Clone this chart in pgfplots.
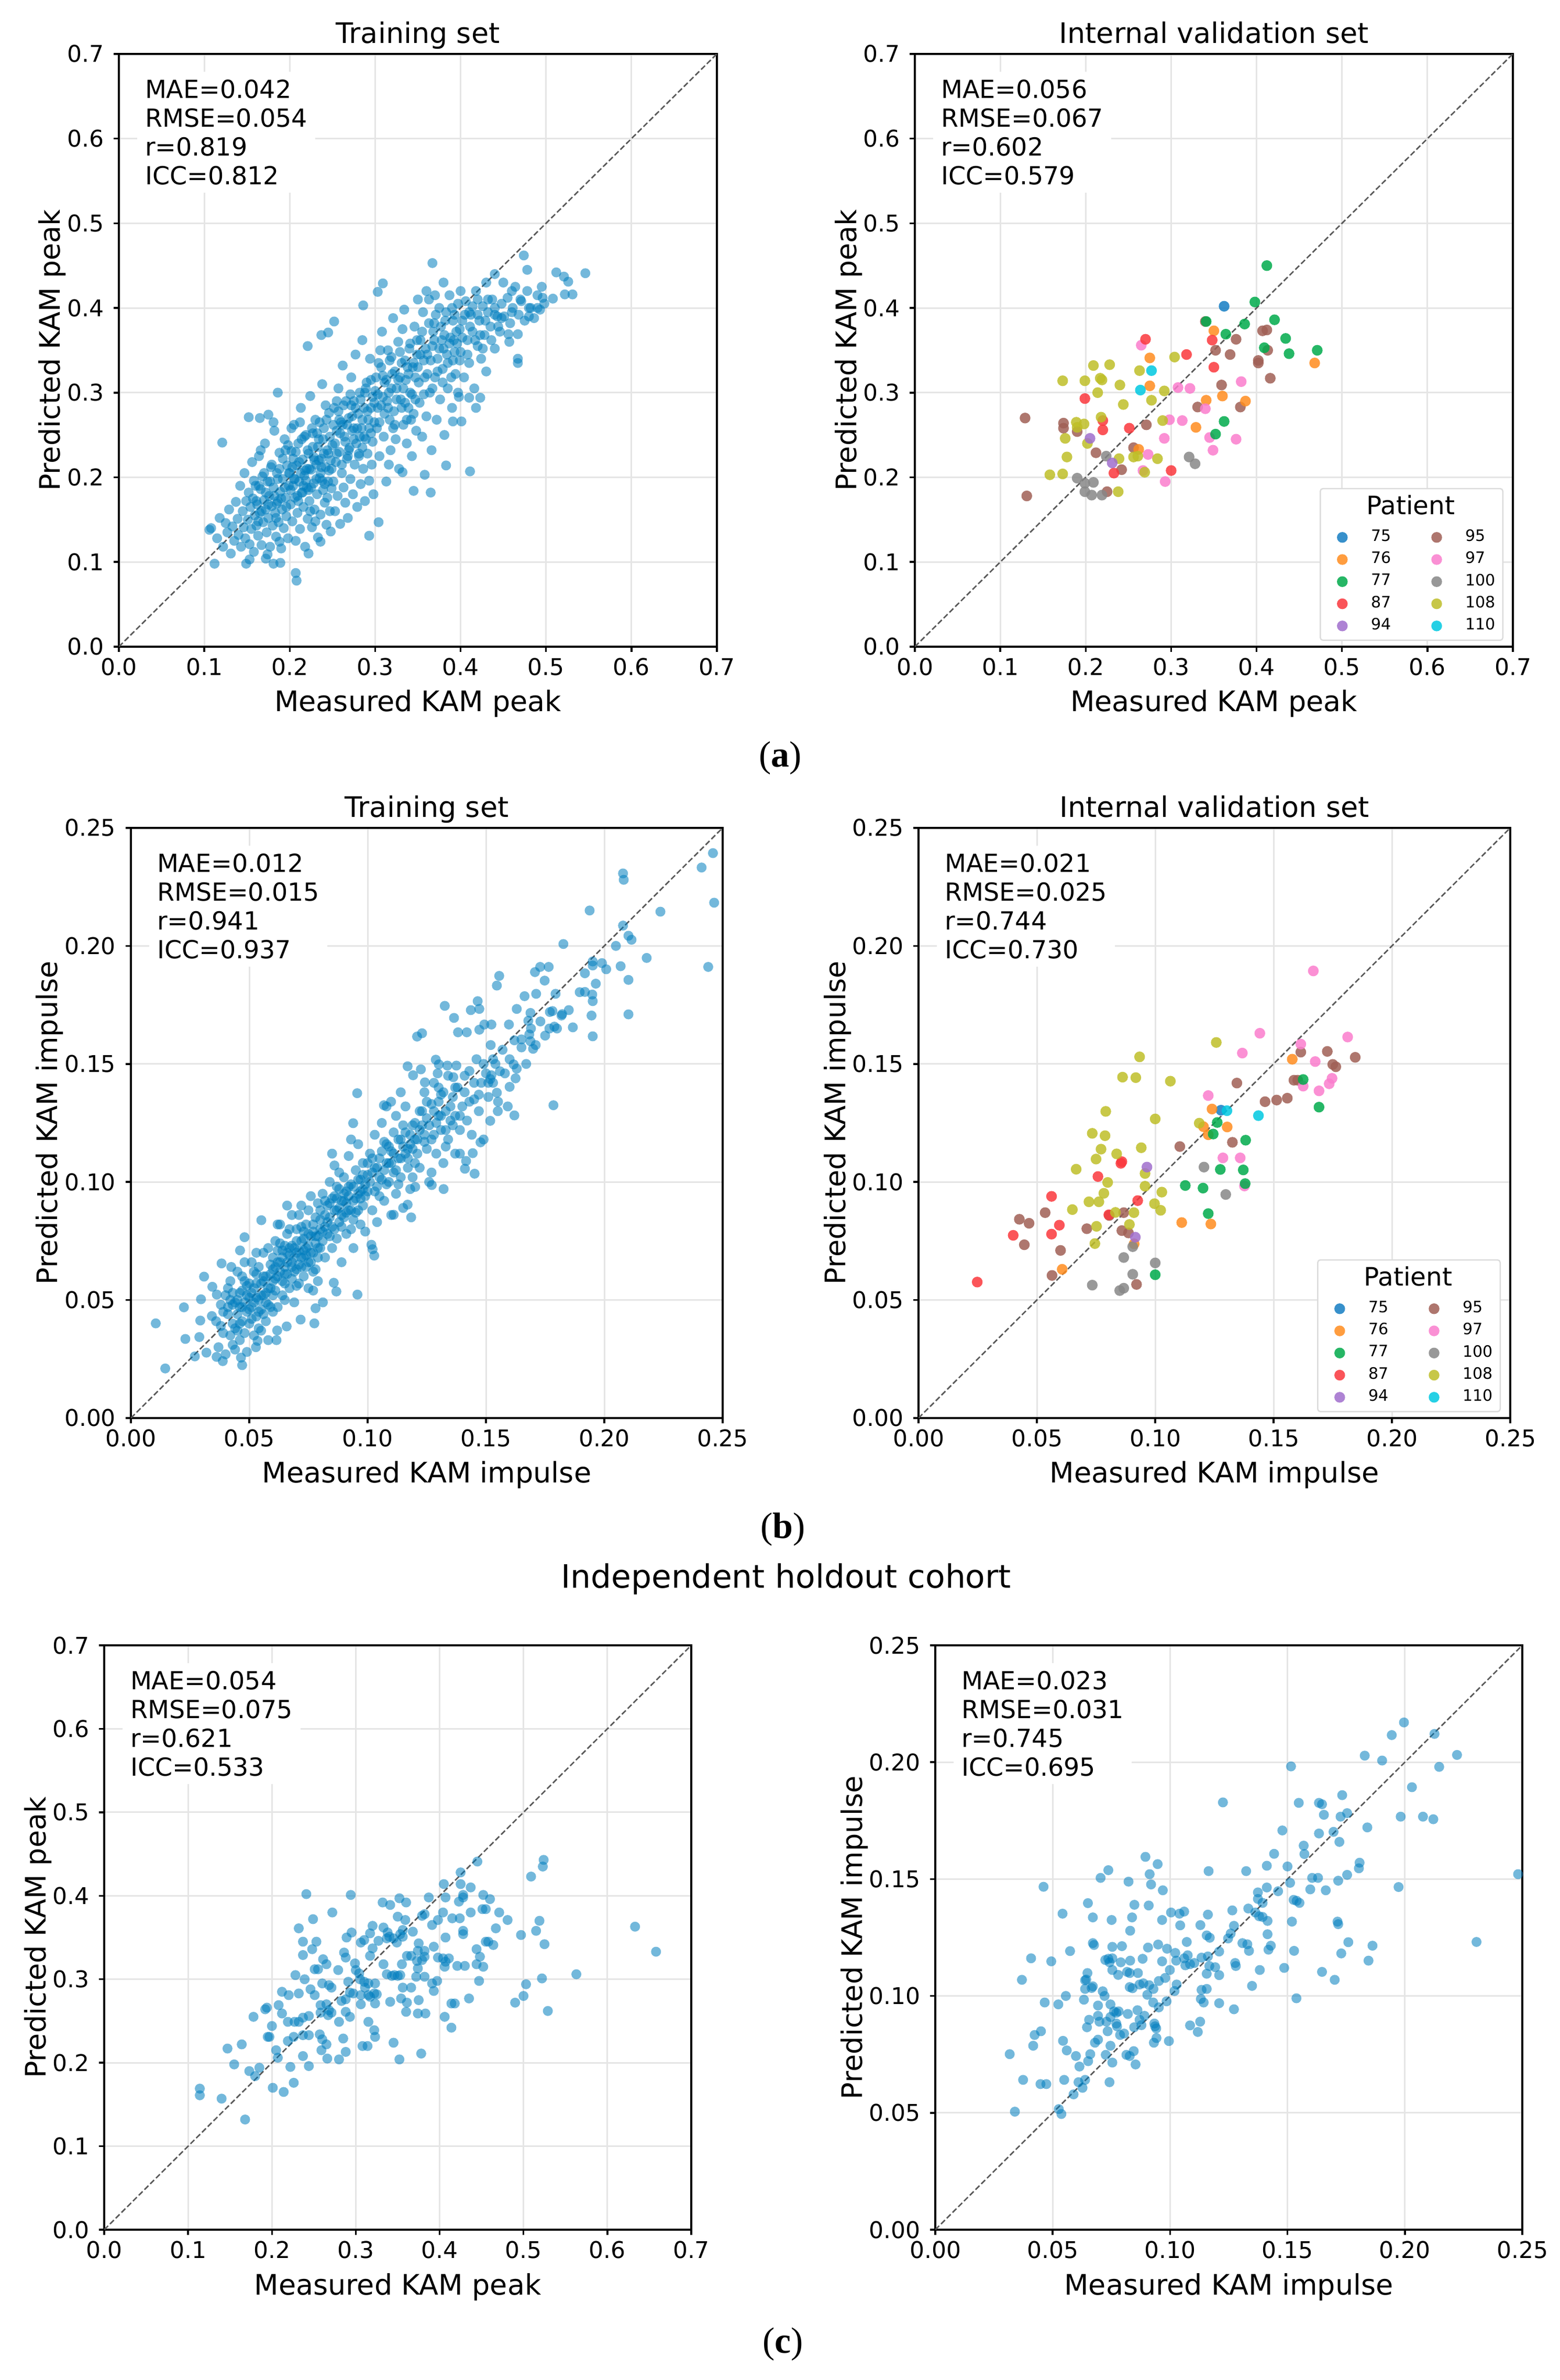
\documentclass[border=0pt]{standalone}
\usepackage{fontspec}
\setmainfont{DejaVu Sans}
\newfontfamily\seriffont{Liberation Serif}
\usepackage{pgfplots}
\pgfplotsset{compat=1.18}
\definecolor{pt}{RGB}{0,125,190}
\definecolor{c75}{RGB}{20,125,195}
\definecolor{c76}{RGB}{255,140,30}
\definecolor{c77}{RGB}{0,170,75}
\definecolor{c87}{RGB}{250,55,60}
\definecolor{c94}{RGB}{160,110,205}
\definecolor{c95}{RGB}{160,95,85}
\definecolor{c97}{RGB}{250,125,205}
\definecolor{c100}{RGB}{135,135,135}
\definecolor{c108}{RGB}{190,190,40}
\definecolor{c110}{RGB}{0,200,225}
\pgfplotsset{
 kam/.style={scale only axis, anchor=south west,
  axis line style={line width=0.7pt},
  tick align=outside, xtick pos=left, ytick pos=left,
  major tick length=2pt, tick style={black,line width=0.7pt},
  xmajorgrids, ymajorgrids, grid style={black!10,line width=0.6pt},
  scaled ticks=false,
  tick label style={font=\fontsize{8.8}{10}\selectfont, inner sep=0pt},
  xticklabel style={anchor=north, yshift=-2.2pt},
  yticklabel style={anchor=east, xshift=-3.6pt},
  /pgf/number format/assume math mode=true,
  every axis x label/.style={at={(axis description cs:0.5,0)}, anchor=base, yshift=-24.8pt, font=\fontsize{10.8}{13}\selectfont},
  every axis title/.style={at={(axis description cs:0.5,1)}, anchor=base, yshift=4pt, font=\fontsize{10.8}{13}\selectfont}},
 ylab/.style={every axis y label/.style={at={(axis description cs:#1,0.5)}, rotate=90, anchor=base, font=\fontsize{10.8}{13}\selectfont}},
 peak/.style={xmin=0,xmax=0.7,ymin=0,ymax=0.7,
  xtick={0,0.1,0.2,0.3,0.4,0.5,0.6,0.7}, ytick={0,0.1,0.2,0.3,0.4,0.5,0.6,0.7},
  xticklabel style={/pgf/number format/fixed,/pgf/number format/fixed zerofill,/pgf/number format/precision=1},
  yticklabel style={/pgf/number format/fixed,/pgf/number format/fixed zerofill,/pgf/number format/precision=1},
  xlabel={Measured KAM peak}, ylabel={Predicted KAM peak}},
 imp/.style={xmin=0,xmax=0.25,ymin=0,ymax=0.25,
  xtick={0,0.05,0.1,0.15,0.2,0.25}, ytick={0,0.05,0.1,0.15,0.2,0.25},
  xticklabel style={/pgf/number format/fixed,/pgf/number format/fixed zerofill,/pgf/number format/precision=2},
  yticklabel style={/pgf/number format/fixed,/pgf/number format/fixed zerofill,/pgf/number format/precision=2},
  xlabel={Measured KAM impulse}, ylabel={Predicted KAM impulse}},
 tr/.style={only marks, mark=*, mark size=1.9pt, mark options={fill=pt, fill opacity=0.55, draw opacity=0}},
 pat/.style={only marks, mark=*, mark size=2.05pt, mark options={fill=#1, fill opacity=0.85, draw opacity=0}},
 diag/.style={forget plot, black!65, line width=0.55pt, dash pattern=on 2.1pt off 1pt},
 patleg/.style={legend columns=2, legend cell align=left,
  legend image code/.code={\path[draw=none,fill=none] (-5.6pt,-2.05pt) rectangle (2.05pt,2.05pt); \draw[##1] plot coordinates {(0pt,0pt)};},
  legend style={at={(1,0)}, anchor=south east, xshift=-3.6pt, yshift=2.2pt, draw=black!14, line width=0.5pt, fill=white,
   rounded corners=1pt, inner xsep=2.8pt, inner ysep=2.5pt, font=\fontsize{6}{7}\selectfont,
   nodes={inner sep=0pt}, row sep=2.5pt, column sep=8.95pt,
   /tikz/every even column/.append style={column sep=11.8pt}}}
}
\newcommand{\stats}[4]{\node[anchor=north west, xshift=6.8pt, yshift=-6.6pt, fill=white, inner sep=3pt, align=left, font=\fontsize{9.5}{11}\selectfont] at (rel axis cs:0,1) {MAE=#1\\RMSE=#2\\r=#3\\ICC=#4};}
\newcommand{\pattitle}{\addlegendimage{empty legend}\addlegendentry{\makebox[0pt][l]{\hspace{-2.3pt}\raisebox{1.8pt}{\fontsize{9.7}{12}\selectfont Patient}}}\addlegendimage{empty legend}\addlegendentry{}}
\begin{document}
\begin{tikzpicture}
\path[use as bounding box] (0,0) rectangle (595.8pt,909pt);
% ---------------- (a) left: training peak
\begin{axis}[kam, peak, ylab=-0.0981, at={(45.4pt,662pt)}, width=228.4pt, height=226.4pt, title={Training set}]
\addplot[tr] coordinates {
(0.367,0.453)(0.474,0.462)(0.546,0.441)(0.512,0.442)(0.521,0.437)(0.526,0.431)(0.522,0.416)(0.531,0.416)(0.508,0.411)(0.496,0.412)(0.495,0.425)(0.478,0.445)(0.467,0.340)(0.467,0.335)(0.457,0.360)(0.467,0.369)(0.456,0.369)(0.423,0.294)(0.410,0.294)(0.398,0.295)(0.391,0.266)(0.401,0.266)(0.418,0.282)(0.383,0.214)(0.411,0.207)(0.345,0.184)(0.365,0.182)(0.358,0.203)(0.332,0.206)(0.316,0.215)(0.304,0.147)(0.293,0.131)(0.207,0.087)(0.208,0.078)(0.189,0.099)(0.181,0.098)(0.172,0.104)(0.149,0.098)(0.153,0.103)(0.112,0.098)(0.106,0.138)(0.121,0.241)(0.152,0.271)(0.165,0.270)(0.175,0.274)(0.186,0.300)(0.221,0.355)(0.237,0.368)(0.245,0.371)(0.252,0.384)(0.286,0.403)(0.303,0.419)(0.309,0.429)(0.222,0.110)(0.236,0.124)
(0.38,0.43)(0.40,0.42)(0.43,0.43)(0.44,0.44)(0.45,0.43)(0.46,0.42)(0.47,0.41)(0.48,0.40)(0.42,0.41)(0.35,0.41)(0.36,0.42)(0.37,0.415)(0.39,0.40)(0.41,0.395)(0.44,0.40)(0.46,0.395)(0.48,0.39)(0.49,0.40)
(0.108,0.140)(0.115,0.128)(0.118,0.152)(0.122,0.118)(0.125,0.146)(0.127,0.135)(0.129,0.162)(0.131,0.110)(0.133,0.142)(0.135,0.125)(0.137,0.171)(0.139,0.151)(0.140,0.132)(0.142,0.190)(0.143,0.118)(0.145,0.160)(0.146,0.141)(0.147,0.205)(0.148,0.128)(0.149,0.172)
(0.151,0.150)(0.152,0.182)(0.153,0.121)(0.154,0.165)(0.155,0.139)(0.156,0.218)(0.157,0.175)(0.158,0.112)(0.159,0.155)(0.160,0.190)(0.161,0.143)(0.162,0.168)(0.163,0.131)(0.164,0.225)(0.165,0.158)(0.166,0.186)(0.167,0.120)(0.168,0.201)(0.169,0.147)(0.170,0.173)(0.171,0.240)(0.172,0.162)(0.173,0.135)(0.174,0.195)(0.175,0.152)(0.176,0.178)(0.177,0.118)(0.178,0.212)(0.179,0.166)(0.180,0.143)(0.181,0.188)(0.182,0.255)(0.183,0.158)(0.184,0.130)(0.185,0.205)(0.186,0.172)(0.187,0.147)(0.188,0.229)(0.189,0.183)(0.190,0.116)(0.191,0.162)(0.192,0.198)(0.193,0.140)(0.194,0.245)(0.195,0.176)(0.196,0.154)(0.197,0.214)(0.198,0.128)(0.199,0.190)(0.158,0.196)(0.166,0.232)(0.174,0.109)(0.181,0.265)(0.188,0.124)(0.195,0.232)(0.163,0.148)(0.185,0.169)
(0.200,0.205)(0.201,0.168)(0.202,0.231)(0.203,0.148)(0.204,0.190)(0.205,0.262)(0.206,0.176)(0.207,0.125)(0.208,0.214)(0.209,0.158)(0.210,0.240)(0.211,0.195)(0.212,0.139)(0.213,0.282)(0.214,0.182)(0.215,0.221)(0.216,0.165)(0.217,0.202)(0.218,0.118)(0.219,0.250)(0.220,0.188)(0.221,0.151)(0.222,0.228)(0.223,0.172)(0.224,0.296)(0.225,0.209)(0.226,0.141)(0.227,0.236)(0.228,0.193)(0.229,0.162)(0.230,0.268)(0.231,0.215)(0.232,0.180)(0.233,0.129)(0.234,0.245)(0.235,0.199)(0.236,0.156)(0.237,0.222)(0.238,0.310)(0.239,0.185)(0.240,0.258)(0.241,0.170)(0.242,0.212)(0.243,0.144)(0.244,0.232)(0.245,0.195)(0.246,0.276)(0.247,0.160)(0.248,0.220)(0.249,0.187)(0.202,0.258)(0.206,0.198)(0.210,0.172)(0.214,0.245)(0.218,0.208)(0.222,0.185)(0.226,0.258)(0.230,0.148)(0.234,0.220)(0.238,0.196)(0.242,0.285)(0.246,0.208)(0.248,0.136)(0.204,0.222)(0.212,0.265)(0.220,0.210)(0.228,0.224)(0.236,0.205)(0.244,0.176)(0.216,0.190)(0.224,0.160)(0.232,0.252)(0.240,0.228)
(0.250,0.238)(0.251,0.195)(0.252,0.282)(0.253,0.160)(0.254,0.218)(0.255,0.255)(0.256,0.178)(0.257,0.305)(0.258,0.230)(0.259,0.145)(0.260,0.265)(0.261,0.205)(0.262,0.332)(0.263,0.188)(0.264,0.248)(0.265,0.170)(0.266,0.290)(0.267,0.222)(0.268,0.152)(0.269,0.270)(0.270,0.235)(0.271,0.198)(0.272,0.318)(0.273,0.255)(0.274,0.180)(0.275,0.290)(0.276,0.215)(0.277,0.345)(0.278,0.240)(0.279,0.165)(0.280,0.275)(0.281,0.228)(0.282,0.300)(0.283,0.192)(0.284,0.258)(0.285,0.362)(0.286,0.210)(0.287,0.282)(0.288,0.172)(0.289,0.245)(0.290,0.312)(0.291,0.228)(0.292,0.268)(0.293,0.196)(0.294,0.340)(0.295,0.252)(0.296,0.215)(0.297,0.295)(0.298,0.180)(0.299,0.265)(0.255,0.290)(0.262,0.262)(0.268,0.225)(0.275,0.258)(0.282,0.248)(0.288,0.300)(0.295,0.282)(0.258,0.268)(0.272,0.285)(0.285,0.235)
(0.300,0.302)(0.302,0.258)(0.304,0.335)(0.305,0.225)(0.307,0.285)(0.308,0.372)(0.310,0.248)(0.311,0.312)(0.313,0.195)(0.314,0.290)(0.315,0.350)(0.317,0.268)(0.318,0.232)(0.320,0.322)(0.321,0.388)(0.322,0.278)(0.324,0.245)(0.325,0.305)(0.327,0.360)(0.328,0.210)(0.330,0.292)(0.331,0.335)(0.333,0.262)(0.334,0.398)(0.336,0.315)(0.337,0.240)(0.339,0.282)(0.340,0.352)(0.341,0.300)(0.343,0.225)(0.344,0.330)(0.345,0.275)(0.346,0.378)(0.347,0.318)(0.348,0.255)(0.349,0.345)(0.303,0.282)(0.309,0.320)(0.316,0.300)(0.323,0.262)(0.329,0.318)(0.335,0.288)(0.342,0.268)(0.306,0.350)(0.319,0.342)(0.332,0.375)(0.338,0.330)
(0.350,0.330)(0.352,0.288)(0.353,0.362)(0.355,0.248)(0.356,0.395)(0.358,0.318)(0.360,0.272)(0.361,0.345)(0.363,0.410)(0.364,0.300)(0.366,0.232)(0.367,0.355)(0.369,0.382)(0.370,0.318)(0.372,0.268)(0.373,0.340)(0.375,0.400)(0.376,0.292)(0.378,0.362)(0.379,0.328)(0.381,0.250)(0.382,0.385)(0.384,0.345)(0.385,0.305)(0.387,0.415)(0.388,0.365)(0.390,0.282)(0.391,0.338)(0.393,0.392)(0.394,0.322)(0.396,0.358)(0.397,0.300)(0.399,0.375)(0.357,0.338)(0.368,0.372)(0.380,0.352)(0.392,0.362)
(0.400,0.348)(0.402,0.385)(0.404,0.318)(0.406,0.408)(0.408,0.362)(0.410,0.335)(0.412,0.392)(0.414,0.372)(0.416,0.305)(0.418,0.420)(0.420,0.355)(0.422,0.385)(0.424,0.340)(0.426,0.402)(0.428,0.368)(0.430,0.325)(0.432,0.395)(0.435,0.378)(0.437,0.410)(0.440,0.352)(0.443,0.390)(0.446,0.372)(0.448,0.405)
(0.451,0.390)(0.455,0.412)(0.458,0.382)(0.461,0.400)(0.464,0.425)(0.468,0.392)(0.471,0.408)(0.475,0.385)(0.478,0.420)(0.482,0.400)(0.486,0.388)(0.490,0.415)(0.493,0.398)(0.498,0.405)
(0.161,0.172)(0.164,0.190)(0.167,0.160)(0.170,0.205)(0.172,0.182)(0.175,0.168)(0.177,0.195)(0.179,0.215)(0.182,0.178)(0.184,0.152)(0.186,0.198)(0.188,0.210)(0.190,0.175)(0.192,0.222)(0.194,0.188)(0.196,0.165)(0.198,0.238)(0.199,0.205)
(0.201,0.185)(0.203,0.212)(0.205,0.198)(0.207,0.230)(0.209,0.178)(0.211,0.218)(0.213,0.205)(0.215,0.182)(0.217,0.248)(0.219,0.196)(0.221,0.232)(0.223,0.210)(0.225,0.188)(0.227,0.252)(0.229,0.220)(0.231,0.198)(0.233,0.236)(0.235,0.265)(0.237,0.212)(0.239,0.245)(0.241,0.192)(0.243,0.268)(0.245,0.228)(0.247,0.248)(0.249,0.210)
(0.251,0.262)(0.253,0.240)(0.255,0.228)(0.257,0.278)(0.259,0.252)(0.261,0.215)(0.263,0.285)(0.265,0.242)(0.267,0.262)(0.269,0.232)(0.271,0.298)(0.273,0.272)(0.275,0.245)(0.277,0.282)(0.279,0.258)(0.281,0.225)(0.283,0.292)(0.285,0.268)(0.287,0.248)(0.289,0.305)(0.291,0.278)(0.293,0.258)(0.295,0.315)(0.297,0.242)(0.299,0.288)
(0.301,0.318)(0.303,0.298)(0.305,0.265)(0.307,0.330)(0.309,0.295)(0.311,0.275)(0.313,0.315)(0.315,0.282)(0.317,0.338)(0.319,0.305)(0.321,0.258)(0.323,0.325)(0.325,0.292)(0.327,0.315)(0.329,0.348)(0.331,0.282)(0.333,0.305)(0.335,0.338)(0.337,0.268)(0.339,0.322)(0.341,0.358)(0.343,0.298)(0.345,0.335)(0.347,0.292)(0.349,0.362)
(0.351,0.312)(0.353,0.345)(0.355,0.372)(0.357,0.298)(0.359,0.352)(0.361,0.322)(0.363,0.382)(0.365,0.338)(0.367,0.305)(0.369,0.362)(0.371,0.392)(0.373,0.325)(0.375,0.352)(0.377,0.378)(0.379,0.312)(0.381,0.368)(0.383,0.395)(0.385,0.335)(0.387,0.358)(0.389,0.318)(0.391,0.385)(0.393,0.348)(0.395,0.372)(0.397,0.405)(0.399,0.338)
(0.402,0.365)(0.405,0.392)(0.408,0.345)(0.411,0.378)(0.414,0.402)(0.417,0.362)(0.420,0.392)(0.423,0.368)(0.426,0.352)(0.429,0.385)(0.432,0.410)(0.436,0.362)(0.440,0.392)(0.444,0.378)(0.448,0.388)
};
\addplot[diag] coordinates {(0,0)(0.7,0.7)};
\stats{0.042}{0.054}{0.819}{0.812}
\end{axis}
% ---------------- (a) right: validation peak
\begin{axis}[kam, peak, ylab=-0.0981, at={(349.4pt,662pt)}, width=228.4pt, height=226.4pt, title={Internal validation set}, patleg]
\pattitle
\addplot[pat=c75] coordinates {(0.362,0.402)}; \addlegendentry{75}
\addplot[pat=c95] coordinates {(0.129,0.270)(0.131,0.178)(0.174,0.264)(0.174,0.258)(0.190,0.254)(0.212,0.229)(0.225,0.183)(0.242,0.209)(0.256,0.235)(0.271,0.262)(0.331,0.283)(0.359,0.309)(0.352,0.350)(0.340,0.384)(0.376,0.363)(0.369,0.345)(0.402,0.338)(0.402,0.335)(0.413,0.350)(0.407,0.373)(0.412,0.374)(0.416,0.317)(0.381,0.283)}; \addlegendentry{95}
\addplot[pat=c76] coordinates {(0.350,0.373)(0.275,0.341)(0.275,0.308)(0.341,0.291)(0.360,0.296)(0.387,0.290)(0.329,0.259)(0.262,0.233)(0.468,0.335)}; \addlegendentry{76}
\addplot[pat=c97] coordinates {(0.265,0.356)(0.308,0.306)(0.322,0.305)(0.382,0.313)(0.340,0.281)(0.298,0.268)(0.313,0.267)(0.292,0.246)(0.345,0.247)(0.376,0.245)(0.349,0.232)(0.273,0.227)(0.267,0.208)(0.293,0.195)}; \addlegendentry{97}
\addplot[pat=c77] coordinates {(0.412,0.450)(0.398,0.407)(0.341,0.384)(0.386,0.381)(0.421,0.386)(0.364,0.369)(0.434,0.364)(0.409,0.353)(0.438,0.346)(0.471,0.350)(0.362,0.266)(0.352,0.251)}; \addlegendentry{77}
\addplot[pat=c100] coordinates {(0.224,0.225)(0.190,0.199)(0.199,0.193)(0.209,0.194)(0.199,0.183)(0.207,0.179)(0.219,0.179)(0.321,0.224)(0.328,0.216)}; \addlegendentry{100}
\addplot[pat=c87] coordinates {(0.270,0.363)(0.348,0.362)(0.318,0.345)(0.350,0.330)(0.199,0.293)(0.220,0.267)(0.220,0.256)(0.251,0.258)(0.300,0.208)(0.233,0.205)}; \addlegendentry{87}
\addplot[pat=c108] coordinates {(0.209,0.332)(0.228,0.333)(0.173,0.314)(0.199,0.314)(0.217,0.317)(0.219,0.315)(0.214,0.300)(0.240,0.309)(0.263,0.326)(0.304,0.342)(0.292,0.302)(0.277,0.291)(0.244,0.286)(0.218,0.271)(0.189,0.265)(0.198,0.263)(0.190,0.259)(0.176,0.246)(0.202,0.240)(0.178,0.224)(0.158,0.203)(0.173,0.204)(0.239,0.222)(0.256,0.224)(0.261,0.225)(0.284,0.222)(0.269,0.206)(0.238,0.183)(0.290,0.267)}; \addlegendentry{108}
\addplot[pat=c94] coordinates {(0.205,0.246)(0.231,0.217)}; \addlegendentry{94}
\addplot[pat=c110] coordinates {(0.277,0.326)(0.264,0.303)}; \addlegendentry{110}
\addplot[diag] coordinates {(0,0)(0.7,0.7)};
\stats{0.056}{0.067}{0.602}{0.579}
\end{axis}
% ---------------- (b) left: training impulse
\begin{axis}[kam, imp, ylab=-0.1239, at={(50pt,367.4pt)}, width=226pt, height=225.4pt, title={Training set}]
\addplot[tr] coordinates {
(0.2459,0.2393)(0.2411,0.2332)(0.2464,0.2183)(0.2439,0.1911)(0.2079,0.2307)(0.2082,0.2280)(0.1938,0.2150)(0.2237,0.2145)(0.2079,0.2086)(0.2102,0.2043)(0.2115,0.2026)(0.2049,0.2000)(0.1827,0.2008)(0.2179,0.1949)(0.2069,0.1914)(0.2102,0.1856)(0.2008,0.1901)(0.1990,0.1927)(0.1951,0.1934)(0.1951,0.1917)(0.1918,0.1884)(0.1964,0.1840)(0.1896,0.1804)(0.1918,0.1805)(0.1949,0.1794)(0.1951,0.1766)(0.1946,0.1705)(0.1951,0.1617)(0.2102,0.1710)(0.1707,0.1889)(0.1729,0.1911)(0.1765,0.1911)(0.1748,0.1853)(0.1712,0.1797)(0.1663,0.1787)(0.1794,0.1797)(0.1781,0.1724)(0.1822,0.1711)(0.1850,0.1728)(0.1819,0.1705)(0.1867,0.1655)(0.1768,0.1650)(0.1789,0.1658)(0.1630,0.1733)(0.1679,0.1683)(0.1688,0.1716)(0.1597,0.1667)(0.1650,0.1604)(0.1683,0.1625)(0.1688,0.1596)(0.1699,0.1564)(0.1556,0.1873)(0.1546,0.1832)(0.1465,0.1766)(0.1472,0.1733)(0.1436,0.1728)(0.1326,0.1746)(0.1365,0.1695)(0.1493,0.1667)(0.1523,0.1667)(0.1472,0.1645)(0.1419,0.1634)(0.1382,0.1634)(0.1209,0.1616)(0.1230,0.1630)(0.1785,0.1325)(0.1620,0.1282)(0.1592,0.1320)(0.1600,0.1403)(0.1625,0.1439)(0.1518,0.1259)(0.1551,0.1340)(0.1546,0.1378)(0.1518,0.1436)(0.1523,0.1452)(0.1559,0.1469)(0.1617,0.1498)(0.1452,0.1035)(0.1411,0.1056)(0.1416,0.1089)(0.1444,0.1122)(0.1477,0.1168)(0.1321,0.0970)(0.1271,0.0987)(0.1201,0.0979)(0.1184,0.0850)(0.1169,0.0904)(0.1110,0.0861)(0.0956,0.1376)(0.0939,0.1249)(0.1069,0.1325)(0.1099,0.1340)(0.1169,0.1490)(0.1225,0.1477)(0.1192,0.1452)(0.1242,0.1422)(0.1288,0.1518)(0.1301,0.1498)(0.1296,0.1460)(0.1337,0.1493)(0.1362,0.1444)(0.1375,0.1493)(0.0957,0.0523)(0.1028,0.0688)(0.1021,0.0715)(0.1016,0.0734)(0.0551,0.0838)(0.0480,0.0766)(0.0461,0.0710)(0.0383,0.0655)(0.0424,0.0640)(0.0309,0.0599)(0.0344,0.0556)(0.0363,0.0523)(0.0296,0.0503)(0.0224,0.0469)(0.0105,0.0401)(0.0293,0.0413)(0.0230,0.0335)(0.0289,0.0343)(0.0342,0.0432)(0.0145,0.0210)(0.0270,0.0261)(0.0319,0.0277)(0.0362,0.0259)(0.0388,0.0241)(0.0465,0.0256)(0.0470,0.0224)(0.0528,0.0300)(0.0535,0.0327)(0.0615,0.0330)(0.0618,0.0371)(0.0775,0.0401)(0.0717,0.0417)(0.0658,0.0388)(0.0780,0.0465)(0.0811,0.0490)(0.0857,0.0573)(0.0868,0.0536)
(0.036,0.041)(0.037,0.030)(0.038,0.048)(0.039,0.036)(0.040,0.052)(0.040,0.027)(0.041,0.044)(0.042,0.035)(0.042,0.058)(0.043,0.040)(0.043,0.031)(0.044,0.049)(0.044,0.038)(0.045,0.062)(0.045,0.044)(0.046,0.033)(0.046,0.053)(0.047,0.041)(0.047,0.047)(0.048,0.036)(0.048,0.058)(0.049,0.045)(0.049,0.028)(0.050,0.051)(0.050,0.040)(0.051,0.066)(0.051,0.047)(0.052,0.035)(0.052,0.055)(0.053,0.043)(0.053,0.061)(0.054,0.050)(0.054,0.038)(0.055,0.057)(0.055,0.046)(0.056,0.070)(0.056,0.052)(0.057,0.041)(0.057,0.060)(0.058,0.048)(0.058,0.033)(0.059,0.055)(0.059,0.065)(0.060,0.045)(0.060,0.058)(0.041,0.055)(0.043,0.048)(0.045,0.037)(0.047,0.060)(0.049,0.052)(0.051,0.042)(0.053,0.070)(0.055,0.037)(0.057,0.053)(0.059,0.047)(0.044,0.029)(0.048,0.066)(0.052,0.062)(0.056,0.044)(0.058,0.072)(0.046,0.047)(0.050,0.057)(0.054,0.064)(0.039,0.045)(0.042,0.050)(0.047,0.054)(0.053,0.051)(0.056,0.060)(0.060,0.052)(0.038,0.039)
(0.060,0.068)(0.061,0.054)(0.061,0.075)(0.062,0.060)(0.062,0.047)(0.063,0.066)(0.063,0.082)(0.064,0.058)(0.064,0.071)(0.065,0.050)(0.065,0.064)(0.066,0.078)(0.066,0.061)(0.067,0.069)(0.067,0.055)(0.068,0.086)(0.068,0.073)(0.069,0.062)(0.069,0.049)(0.070,0.070)(0.070,0.080)(0.071,0.065)(0.071,0.057)(0.072,0.075)(0.072,0.090)(0.073,0.068)(0.073,0.060)(0.074,0.082)(0.074,0.072)(0.075,0.055)(0.075,0.066)(0.076,0.077)(0.076,0.094)(0.077,0.070)(0.077,0.062)(0.078,0.085)(0.078,0.074)(0.079,0.058)(0.079,0.068)(0.080,0.080)(0.062,0.071)(0.064,0.052)(0.066,0.070)(0.068,0.059)(0.070,0.063)(0.072,0.068)(0.074,0.064)(0.076,0.070)(0.078,0.063)(0.080,0.072)(0.061,0.064)(0.063,0.074)(0.065,0.057)(0.067,0.080)(0.069,0.072)(0.071,0.086)(0.073,0.076)(0.075,0.088)(0.077,0.079)(0.079,0.091)(0.062,0.082)(0.065,0.073)(0.068,0.066)(0.070,0.056)(0.073,0.071)(0.075,0.078)(0.077,0.054)(0.079,0.077)(0.066,0.090)(0.072,0.081)
(0.080,0.088)(0.081,0.075)(0.081,0.095)(0.082,0.081)(0.082,0.068)(0.083,0.090)(0.083,0.078)(0.084,0.100)(0.084,0.085)(0.085,0.072)(0.085,0.093)(0.086,0.080)(0.086,0.107)(0.087,0.088)(0.087,0.076)(0.088,0.097)(0.088,0.083)(0.089,0.066)(0.089,0.092)(0.090,0.102)(0.090,0.085)(0.091,0.078)(0.091,0.096)(0.092,0.111)(0.092,0.088)(0.093,0.080)(0.093,0.099)(0.094,0.092)(0.094,0.072)(0.095,0.105)(0.095,0.087)(0.096,0.095)(0.096,0.116)(0.097,0.082)(0.097,0.101)(0.098,0.090)(0.098,0.108)(0.099,0.094)(0.099,0.079)(0.100,0.103)(0.082,0.092)(0.084,0.077)(0.086,0.094)(0.088,0.104)(0.090,0.092)(0.092,0.098)(0.094,0.084)(0.096,0.088)(0.098,0.097)(0.085,0.112)(0.089,0.081)(0.093,0.118)(0.097,0.093)(0.087,0.098)(0.091,0.087)
(0.100,0.096)(0.101,0.112)(0.102,0.088)(0.102,0.104)(0.103,0.120)(0.104,0.098)(0.104,0.083)(0.105,0.110)(0.106,0.101)(0.106,0.125)(0.107,0.092)(0.108,0.108)(0.108,0.116)(0.109,0.100)(0.110,0.086)(0.110,0.113)(0.111,0.104)(0.112,0.128)(0.112,0.095)(0.113,0.110)(0.114,0.118)(0.114,0.102)(0.115,0.089)(0.116,0.112)(0.116,0.132)(0.117,0.106)(0.118,0.120)(0.118,0.097)(0.119,0.114)(0.120,0.125)(0.120,0.108)(0.103,0.106)(0.105,0.094)(0.107,0.117)(0.109,0.108)(0.111,0.121)(0.113,0.099)(0.115,0.124)(0.117,0.114)(0.119,0.102)(0.108,0.132)(0.114,0.138)
(0.121,0.118)(0.122,0.130)(0.122,0.106)(0.123,0.124)(0.124,0.138)(0.125,0.114)(0.125,0.127)(0.126,0.100)(0.127,0.133)(0.128,0.120)(0.128,0.142)(0.129,0.112)(0.130,0.128)(0.131,0.122)(0.131,0.137)(0.132,0.108)(0.133,0.130)(0.134,0.145)(0.134,0.118)(0.135,0.126)(0.136,0.136)(0.137,0.112)(0.137,0.128)(0.138,0.140)(0.139,0.122)(0.140,0.132)(0.124,0.117)(0.127,0.104)(0.130,0.140)(0.133,0.115)(0.136,0.124)(0.139,0.112)
(0.141,0.138)(0.142,0.126)(0.143,0.147)(0.144,0.120)(0.145,0.135)(0.146,0.152)(0.147,0.130)(0.148,0.142)(0.149,0.118)(0.150,0.146)(0.151,0.136)(0.152,0.158)(0.153,0.142)(0.154,0.150)(0.155,0.130)(0.157,0.156)(0.158,0.146)(0.160,0.152)(0.162,0.160)(0.163,0.148)(0.165,0.157)(0.167,0.150)(0.169,0.165)(0.171,0.158)(0.173,0.168)(0.175,0.162)(0.177,0.172)(0.180,0.165)
(0.041,0.047)(0.043,0.053)(0.045,0.050)(0.046,0.040)(0.048,0.049)(0.049,0.056)(0.050,0.046)(0.051,0.053)(0.052,0.049)(0.053,0.057)(0.054,0.045)(0.055,0.052)(0.056,0.058)(0.057,0.049)(0.058,0.055)(0.059,0.061)(0.060,0.063)(0.061,0.059)(0.062,0.066)(0.063,0.062)(0.064,0.068)(0.065,0.061)(0.066,0.066)(0.067,0.072)(0.068,0.064)(0.069,0.068)(0.070,0.075)(0.071,0.071)(0.072,0.064)(0.073,0.079)(0.074,0.069)(0.075,0.073)(0.076,0.066)(0.077,0.082)(0.078,0.077)(0.079,0.072)(0.080,0.084)(0.081,0.079)(0.082,0.086)(0.083,0.083)(0.084,0.091)(0.085,0.081)(0.086,0.088)(0.087,0.093)(0.088,0.089)(0.089,0.086)(0.090,0.095)(0.091,0.091)(0.092,0.094)(0.093,0.088)(0.094,0.098)(0.095,0.093)(0.096,0.101)(0.097,0.096)(0.098,0.103)(0.099,0.099)(0.100,0.108)(0.101,0.100)(0.102,0.110)(0.103,0.096)(0.104,0.106)(0.105,0.102)(0.106,0.113)(0.107,0.105)(0.108,0.099)(0.109,0.115)(0.110,0.108)(0.111,0.112)(0.112,0.105)(0.113,0.118)(0.114,0.110)(0.115,0.115)(0.116,0.121)(0.117,0.110)(0.118,0.116)(0.119,0.124)(0.120,0.118)(0.121,0.112)(0.122,0.122)(0.123,0.130)(0.124,0.120)(0.125,0.134)(0.126,0.124)(0.127,0.118)(0.128,0.130)(0.129,0.125)(0.130,0.134)(0.131,0.128)(0.132,0.138)(0.133,0.122)(0.135,0.132)(0.137,0.140)(0.139,0.128)(0.141,0.145)(0.143,0.134)(0.145,0.142)(0.147,0.137)(0.149,0.150)(0.151,0.142)(0.153,0.152)
};
\addplot[diag] coordinates {(0,0)(0.25,0.25)};
\stats{0.012}{0.015}{0.941}{0.937}
\end{axis}
% ---------------- (b) right: validation impulse
\begin{axis}[kam, imp, ylab=-0.1239, at={(350.8pt,367.4pt)}, width=226pt, height=225.4pt, title={Internal validation set}, patleg]
\pattitle
\addplot[pat=c75] coordinates {(0.1278,0.1304)}; \addlegendentry{75}
\addplot[pat=c95] coordinates {(0.1615,0.1550)(0.1727,0.1553)(0.1845,0.1528)(0.1750,0.1498)(0.1763,0.1488)(0.1586,0.1431)(0.1602,0.1431)(0.1558,0.1355)(0.1513,0.1347)(0.1464,0.1340)(0.1345,0.1419)(0.1326,0.1168)(0.1104,0.1150)(0.0867,0.0870)(0.0806,0.0858)(0.0535,0.0870)(0.0426,0.0842)(0.0467,0.0825)(0.0447,0.0734)(0.0600,0.0710)(0.0711,0.0802)(0.0859,0.0794)(0.0887,0.0784)(0.0564,0.0604)(0.0921,0.0566)}; \addlegendentry{95}
\addplot[pat=c76] coordinates {(0.1579,0.1520)(0.1240,0.1309)(0.1204,0.1234)(0.1224,0.1200)(0.1304,0.1233)(0.1112,0.0828)(0.1235,0.0822)(0.0911,0.0738)(0.0607,0.0630)}; \addlegendentry{76}
\addplot[pat=c97] coordinates {(0.1668,0.1894)(0.1442,0.1630)(0.1813,0.1614)(0.1615,0.1584)(0.1368,0.1546)(0.1676,0.1510)(0.1747,0.1439)(0.1735,0.1416)(0.1625,0.1406)(0.1692,0.1386)(0.1224,0.1366)(0.1286,0.1102)(0.1359,0.1102)(0.1377,0.0983)}; \addlegendentry{97}
\addplot[pat=c77] coordinates {(0.1625,0.1434)(0.1692,0.1317)(0.1262,0.1252)(0.1245,0.1203)(0.1382,0.1177)(0.1275,0.1053)(0.1372,0.1051)(0.1380,0.0993)(0.1127,0.0985)(0.1202,0.0974)(0.1224,0.0866)(0.1000,0.0607)}; \addlegendentry{77}
\addplot[pat=c100] coordinates {(0.1206,0.1063)(0.1298,0.0947)(0.1000,0.0657)(0.0905,0.0726)(0.0867,0.0680)(0.0905,0.0609)(0.0734,0.0563)(0.0867,0.0550)(0.0850,0.0540)}; \addlegendentry{100}
\addplot[pat=c87] coordinates {(0.0855,0.1079)(0.0859,0.1086)(0.0758,0.1023)(0.0562,0.0939)(0.0926,0.0921)(0.0804,0.0861)(0.0595,0.0817)(0.0562,0.0779)(0.0400,0.0774)(0.0248,0.0576)}; \addlegendentry{87}
\addplot[pat=c108] coordinates {(0.1258,0.1591)(0.0934,0.1530)(0.0862,0.1444)(0.0918,0.1442)(0.1064,0.1427)(0.0791,0.1299)(0.1000,0.1267)(0.1186,0.1249)(0.0734,0.1206)(0.0788,0.1196)(0.0771,0.1139)(0.0941,0.1145)(0.0837,0.1119)(0.0750,0.1097)(0.0666,0.1054)(0.0957,0.1036)(0.0799,0.0998)(0.0957,0.0982)(0.1028,0.0957)(0.0783,0.0952)(0.0720,0.0916)(0.0762,0.0916)(0.0997,0.0908)(0.0650,0.0883)(0.1023,0.0880)(0.0832,0.0871)(0.0910,0.0870)(0.0752,0.0812)(0.0891,0.0820)(0.0745,0.0739)}; \addlegendentry{108}
\addplot[pat=c94] coordinates {(0.0965,0.1063)(0.0916,0.0766)}; \addlegendentry{94}
\addplot[pat=c110] coordinates {(0.1303,0.1302)(0.1436,0.1281)}; \addlegendentry{110}
\addplot[diag] coordinates {(0,0)(0.25,0.25)};
\stats{0.021}{0.025}{0.744}{0.730}
\end{axis}
% ---------------- (c) left: holdout peak
\begin{axis}[kam, peak, ylab=-0.0999, at={(39.8pt,57.4pt)}, width=224.2pt, height=223.2pt]
\addplot[tr] coordinates {
(0.114,0.169)(0.114,0.161)(0.140,0.157)(0.168,0.132)(0.147,0.217)(0.164,0.222)(0.155,0.198)(0.173,0.190)(0.180,0.184)(0.185,0.194)(0.178,0.255)(0.192,0.264)(0.194,0.266)(0.201,0.170)(0.214,0.165)(0.226,0.176)(0.222,0.195)(0.205,0.215)(0.207,0.206)(0.195,0.231)(0.197,0.231)(0.200,0.244)(0.212,0.259)(0.208,0.269)(0.212,0.285)(0.220,0.281)(0.232,0.283)(0.228,0.305)(0.232,0.361)(0.241,0.402)(0.249,0.372)(0.237,0.345)(0.253,0.345)(0.248,0.336)(0.237,0.329)(0.272,0.380)(0.294,0.401)(0.239,0.300)(0.251,0.312)(0.255,0.312)(0.261,0.324)(0.265,0.318)(0.246,0.288)(0.251,0.281)(0.260,0.295)(0.268,0.293)(0.271,0.290)(0.279,0.311)(0.258,0.269)(0.265,0.270)(0.268,0.263)(0.258,0.260)(0.271,0.260)(0.267,0.257)(0.227,0.249)(0.232,0.249)(0.237,0.254)(0.244,0.256)(0.219,0.249)(0.226,0.231)(0.219,0.226)(0.237,0.233)(0.244,0.233)(0.237,0.208)(0.244,0.196)(0.257,0.234)(0.260,0.228)(0.265,0.222)(0.259,0.215)(0.266,0.205)(0.280,0.204)(0.285,0.229)(0.288,0.213)(0.280,0.249)(0.288,0.261)(0.293,0.255)(0.283,0.274)(0.288,0.276)(0.291,0.297)(0.293,0.284)(0.297,0.283)(0.299,0.319)(0.300,0.311)(0.304,0.307)(0.305,0.300)(0.310,0.297)(0.311,0.290)(0.315,0.295)(0.323,0.295)(0.306,0.281)(0.315,0.281)(0.317,0.279)(0.322,0.283)(0.325,0.282)(0.323,0.271)(0.306,0.270)(0.315,0.249)(0.322,0.239)(0.323,0.231)(0.308,0.220)(0.314,0.220)(0.286,0.332)(0.288,0.326)(0.289,0.350)(0.295,0.356)(0.306,0.344)(0.310,0.347)(0.317,0.355)(0.320,0.364)(0.317,0.328)(0.320,0.337)(0.327,0.346)(0.332,0.392)(0.341,0.389)(0.352,0.397)(0.360,0.392)(0.333,0.362)(0.338,0.356)(0.340,0.351)(0.345,0.349)(0.337,0.349)(0.350,0.375)(0.359,0.371)(0.356,0.359)(0.353,0.354)(0.356,0.351)(0.349,0.344)(0.368,0.357)(0.333,0.318)(0.337,0.306)(0.343,0.304)(0.346,0.305)(0.350,0.304)(0.353,0.305)(0.355,0.318)(0.361,0.328)(0.366,0.328)(0.373,0.322)(0.374,0.313)(0.372,0.303)(0.356,0.290)(0.366,0.290)(0.382,0.303)(0.341,0.273)(0.354,0.277)(0.361,0.272)(0.360,0.261)(0.375,0.275)(0.374,0.259)(0.383,0.259)(0.345,0.224)(0.352,0.204)(0.378,0.211)(0.379,0.376)(0.382,0.378)(0.387,0.398)(0.391,0.365)(0.398,0.371)(0.375,0.343)(0.382,0.334)(0.382,0.327)(0.379,0.323)(0.393,0.339)(0.374,0.334)(0.398,0.326)(0.404,0.325)(0.407,0.321)(0.411,0.325)(0.406,0.315)(0.391,0.295)(0.393,0.286)(0.397,0.298)(0.405,0.414)(0.407,0.398)(0.404,0.380)(0.407,0.350)(0.406,0.255)(0.414,0.271)(0.418,0.271)(0.414,0.242)(0.425,0.428)(0.425,0.414)(0.437,0.410)(0.428,0.401)(0.428,0.398)(0.423,0.393)(0.415,0.373)(0.424,0.373)(0.428,0.358)(0.428,0.354)(0.437,0.380)(0.451,0.384)(0.455,0.384)(0.452,0.401)(0.460,0.396)(0.421,0.316)(0.430,0.316)(0.444,0.336)(0.448,0.327)(0.444,0.318)(0.452,0.315)(0.447,0.298)(0.455,0.345)(0.458,0.345)(0.464,0.341)(0.467,0.361)(0.471,0.380)(0.481,0.371)(0.435,0.277)(0.445,0.441)(0.497,0.353)(0.515,0.358)(0.519,0.370)(0.525,0.342)(0.509,0.423)(0.524,0.443)(0.523,0.435)(0.503,0.294)(0.522,0.301)(0.500,0.280)(0.490,0.272)(0.529,0.262)(0.563,0.306)(0.633,0.363)(0.658,0.333)
};
\addplot[diag] coordinates {(0,0)(0.7,0.7)};
\stats{0.054}{0.075}{0.621}{0.533}
\end{axis}
% ---------------- (c) right: holdout impulse
\begin{axis}[kam, imp, ylab=-0.1249, at={(357.2pt,57.4pt)}, width=224.2pt, height=223.2pt]
\addplot[tr] coordinates {
(0.1996,0.2170)(0.1944,0.2116)(0.2126,0.2121)(0.1829,0.2028)(0.1903,0.2007)(0.2222,0.2031)(0.2146,0.1980)(0.1515,0.1982)(0.2030,0.1893)(0.1225,0.1828)(0.1548,0.1826)(0.1634,0.1826)(0.1647,0.1820)(0.1655,0.1775)(0.1733,0.1859)(0.1726,0.1767)(0.1754,0.1782)(0.1982,0.1767)(0.2077,0.1767)(0.2121,0.1756)(0.1478,0.1708)(0.1634,0.1695)(0.1696,0.1702)(0.1721,0.1659)(0.1840,0.1721)(0.1569,0.1643)(0.1572,0.1607)(0.1443,0.1608)(0.1412,0.1557)(0.1500,0.1554)(0.1324,0.1534)(0.1164,0.1534)(0.1807,0.1570)(0.1804,0.1546)(0.1754,0.1518)(0.1716,0.1493)(0.1605,0.1505)(0.1630,0.1505)(0.1597,0.1456)(0.1663,0.1452)(0.2482,0.1521)(0.1973,0.1466)(0.1460,0.1448)(0.1511,0.1484)(0.1412,0.1464)(0.1374,0.1443)(0.1374,0.1415)(0.1394,0.1398)(0.1526,0.1411)(0.1539,0.1407)(0.1551,0.1398)(0.1333,0.1374)(0.1363,0.1357)(0.1379,0.1341)(0.1394,0.1338)(0.1415,0.1321)(0.1265,0.1366)(0.1272,0.1300)(0.1258,0.1267)(0.1247,0.1246)(0.1519,0.1318)(0.1713,0.1318)(0.1716,0.1307)(0.1415,0.1264)(0.1429,0.1215)(0.1419,0.1198)(0.1308,0.1226)(0.1329,0.1221)(0.1336,0.1193)(0.1528,0.1193)(0.1759,0.1230)(0.1862,0.1215)(0.1729,0.1182)(0.1845,0.1151)(0.2305,0.1231)(0.1486,0.1120)(0.1382,0.1111)(0.1349,0.1043)(0.1647,0.1103)(0.1701,0.1069)(0.1538,0.0990)
(0.0895,0.1595)(0.0947,0.1564)(0.0913,0.1521)(0.0919,0.1477)(0.0969,0.1452)(0.0737,0.1538)(0.0704,0.1505)(0.0823,0.1489)(0.0461,0.1467)(0.0542,0.1352)(0.0650,0.1397)(0.0671,0.1336)(0.0751,0.1325)(0.0848,0.1390)(0.0838,0.1336)(0.0830,0.1279)(0.0909,0.1387)(0.1004,0.1357)(0.1040,0.1352)(0.1060,0.1361)(0.1043,0.1302)(0.0966,0.1325)(0.1161,0.1348)(0.1129,0.1303)(0.1156,0.1259)(0.1169,0.1249)(0.1071,0.1231)(0.1209,0.1190)(0.0408,0.1161)(0.0494,0.1148)(0.0574,0.1192)(0.0671,0.1226)(0.0676,0.1218)(0.0754,0.1210)(0.0795,0.1213)(0.0724,0.1154)(0.0737,0.1159)(0.0754,0.1161)(0.0369,0.1069)(0.0883,0.1159)(0.0906,0.1207)(0.0949,0.1220)(0.0987,0.1202)(0.0966,0.1148)(0.1022,0.1184)(0.1026,0.1151)(0.1060,0.1161)(0.1075,0.1174)(0.1065,0.1131)(0.1085,0.1136)(0.1103,0.1141)(0.1134,0.1164)(0.1161,0.1169)(0.1167,0.1128)(0.1192,0.1123)(0.1156,0.1095)(0.1209,0.1089)(0.1277,0.1141)(0.1280,0.1128)
(0.0648,0.1098)(0.0643,0.1070)(0.0638,0.1067)(0.0671,0.1041)(0.0666,0.1034)(0.0638,0.1030)(0.0713,0.1020)(0.0742,0.1144)(0.0790,0.1144)(0.0754,0.1111)(0.0779,0.1090)(0.0817,0.1103)(0.0828,0.1098)(0.0863,0.1098)(0.0830,0.1151)(0.0828,0.1038)(0.0840,0.1033)(0.0870,0.1049)(0.0886,0.1054)(0.0911,0.1046)(0.0929,0.1030)(0.0903,0.1005)(0.0952,0.1064)(0.0979,0.1077)(0.0999,0.1111)(0.1028,0.1049)(0.1019,0.1021)(0.0985,0.0977)(0.0952,0.0951)(0.0928,0.0972)(0.1134,0.1026)(0.1156,0.1030)(0.1131,0.0987)(0.1143,0.0972)(0.1209,0.0969)(0.1272,0.0943)
(0.0466,0.0972)(0.0524,0.0964)(0.0556,0.1000)(0.0633,0.0984)(0.0693,0.0959)(0.0721,0.1000)(0.0746,0.0964)(0.0761,0.0934)(0.0771,0.0928)(0.0781,0.0934)(0.0820,0.0923)(0.0861,0.0939)(0.0655,0.0898)(0.0646,0.0866)(0.0693,0.0915)(0.0699,0.0890)(0.0729,0.0890)(0.0746,0.0910)(0.0771,0.0882)(0.0774,0.0870)(0.0734,0.0849)(0.0787,0.0833)(0.0804,0.0839)(0.0870,0.0898)(0.0878,0.0875)(0.0891,0.0915)(0.0933,0.0882)(0.0936,0.0870)(0.0941,0.0861)(0.0942,0.0820)(0.0931,0.0800)(0.0995,0.0807)(0.0847,0.0866)(0.1085,0.0874)(0.1128,0.0890)(0.1118,0.0846)
(0.0450,0.0849)(0.0423,0.0833)(0.0417,0.0787)(0.0544,0.0808)(0.0560,0.0767)(0.0599,0.0743)(0.0614,0.0698)(0.0651,0.0721)(0.0660,0.0751)(0.0680,0.0800)(0.0693,0.0813)(0.0746,0.0787)(0.0754,0.0715)(0.0726,0.0748)(0.0814,0.0748)(0.0828,0.0743)(0.0845,0.0764)(0.0853,0.0707)(0.0317,0.0751)(0.0374,0.0641)(0.0448,0.0623)(0.0473,0.0623)(0.0549,0.0641)(0.0610,0.0631)(0.0638,0.0641)(0.0589,0.0579)(0.0627,0.0607)(0.0742,0.0631)(0.0339,0.0505)(0.0526,0.0516)(0.0537,0.0495)
};
\addplot[diag] coordinates {(0,0)(0.25,0.25)};
\stats{0.023}{0.031}{0.745}{0.695}
\end{axis}
% ---------------- panel captions
\node[font=\seriffont\fontsize{14}{16}\selectfont] at (298pt,619.4pt) {(\textbf{a})};
\node[font=\seriffont\fontsize{14}{16}\selectfont] at (299pt,324.8pt) {(\textbf{b})};
\node[font=\fontsize{12.3}{15}\selectfont, anchor=base] at (300.2pt,302.4pt) {Independent holdout cohort};
\node[font=\seriffont\fontsize{14}{16}\selectfont] at (299pt,13.6pt) {(\textbf{c})};
\end{tikzpicture}
\end{document}
